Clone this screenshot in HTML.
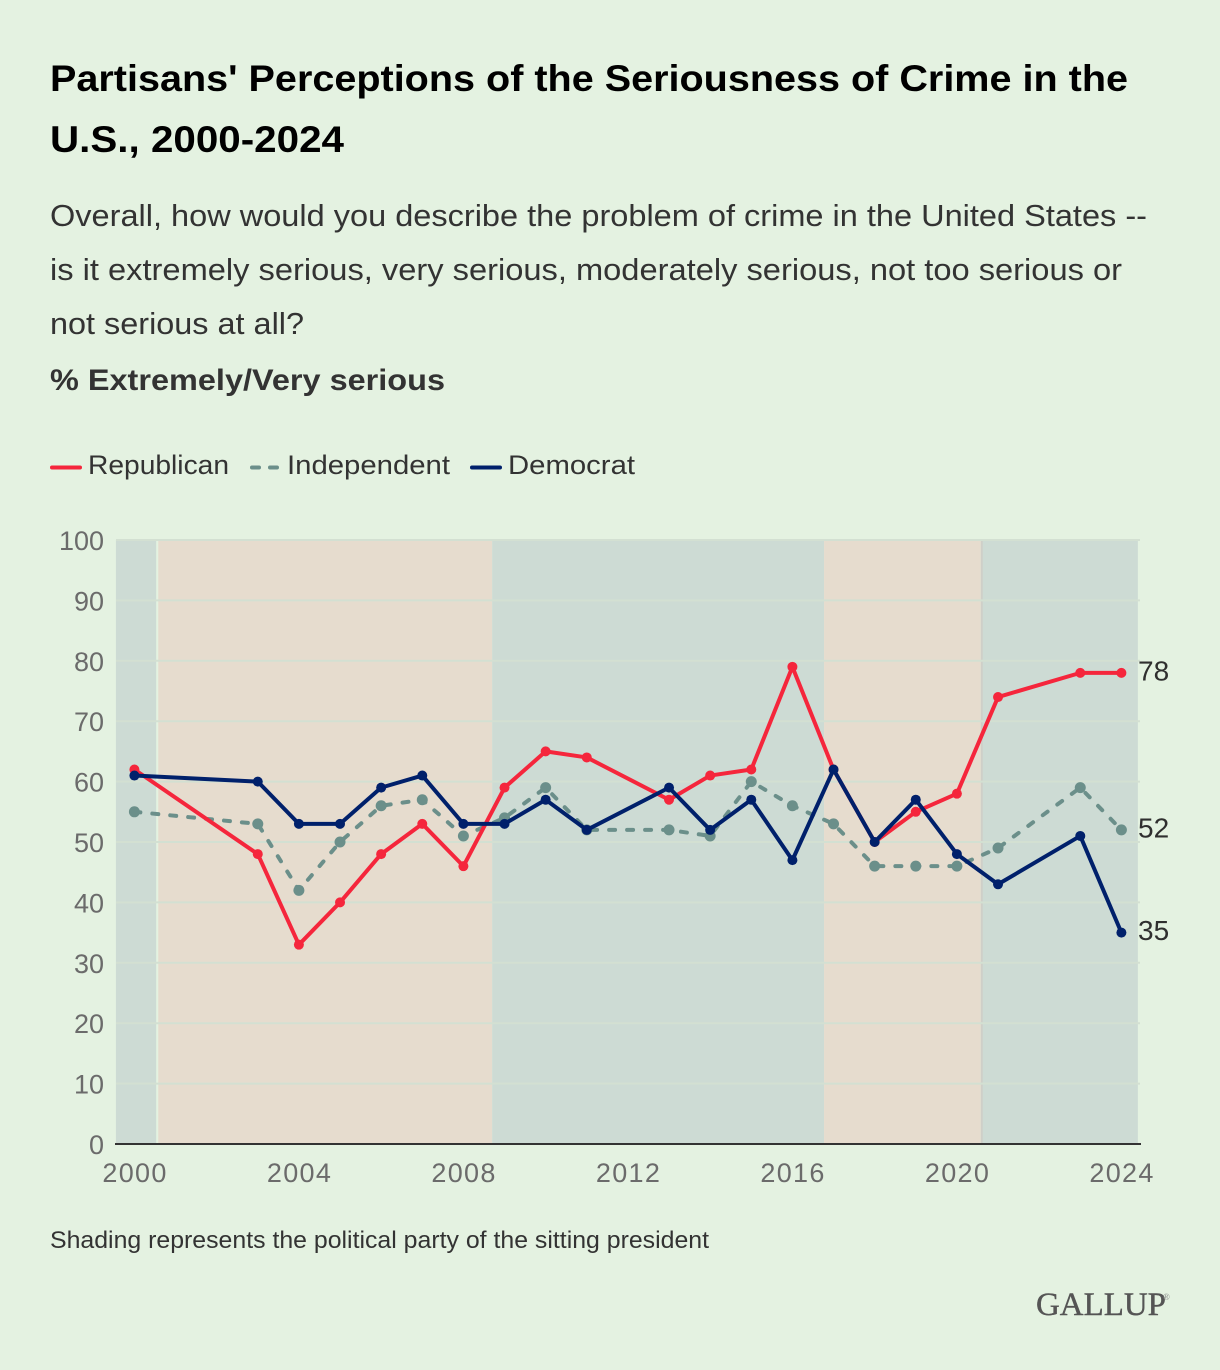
<!DOCTYPE html>
<html lang="en">
<head>
<meta charset="utf-8">
<title>Partisans' Perceptions of the Seriousness of Crime in the U.S., 2000-2024</title>
<style>
html,body{margin:0;padding:0;background:#e4f2e1;}
svg{display:block;font-family:"Liberation Sans",Arial,sans-serif;}
</style>
</head>
<body>
<svg id="chart" xmlns="http://www.w3.org/2000/svg" width="1220" height="1370" viewBox="0 0 1220 1370">
  <rect x="0" y="0" width="1220" height="1370" fill="#e4f2e1"/>

  <g font-size="37" font-weight="700" fill="#000">
    <text x="50" y="91" textLength="1078" lengthAdjust="spacingAndGlyphs">Partisans' Perceptions of the Seriousness of Crime in the</text>
    <text x="50" y="152" textLength="294" lengthAdjust="spacingAndGlyphs">U.S., 2000-2024</text>
  </g>
  <g font-size="31" fill="#333">
    <text x="50" y="226" textLength="1097" lengthAdjust="spacingAndGlyphs">Overall, how would you describe the problem of crime in the United States --</text>
    <text x="50" y="280" textLength="1072" lengthAdjust="spacingAndGlyphs">is it extremely serious, very serious, moderately serious, not too serious or</text>
    <text x="50" y="334" textLength="254" lengthAdjust="spacingAndGlyphs">not serious at all?</text>
  </g>
  <text x="50" y="390" font-size="30" font-weight="700" fill="#333" textLength="395" lengthAdjust="spacingAndGlyphs">% Extremely/Very serious</text>

  <g font-size="27" fill="#333">
    <g>
      <line x1="52" y1="467.5" x2="80" y2="467.5" stroke="#f5263c" stroke-width="4" stroke-linecap="round"/>
      <text x="88" y="474" textLength="141" lengthAdjust="spacingAndGlyphs">Republican</text>
    </g>
    <g>
      <line x1="252" y1="467.5" x2="277" y2="467.5" stroke="#6b8f8a" stroke-width="4" stroke-linecap="round" stroke-dasharray="7 11"/>
      <text x="287" y="474" textLength="163" lengthAdjust="spacingAndGlyphs">Independent</text>
    </g>
    <g>
      <line x1="472" y1="467.5" x2="500" y2="467.5" stroke="#00206b" stroke-width="4" stroke-linecap="round"/>
      <text x="508" y="474" textLength="127" lengthAdjust="spacingAndGlyphs">Democrat</text>
    </g>
  </g>

  <g id="shading"></g>
  <g id="grid"></g>
  <g id="y-axis" font-size="27" fill="#6b6b6b" text-anchor="end"></g>
  <g id="x-axis" font-size="27" fill="#6b6b6b" text-anchor="middle"></g>
  <g id="series"></g>
  <g id="end-labels" font-size="28" fill="#2f2f2f"></g>

  <text x="50" y="1248" font-size="24" fill="#333" textLength="659" lengthAdjust="spacingAndGlyphs">Shading represents the political party of the sitting president</text>
  <g font-family="'Liberation Serif',serif" fill="#555">
    <text x="1036" y="1315" font-size="33" stroke="#555" stroke-width="0.4" textLength="130" lengthAdjust="spacingAndGlyphs">GALLUP</text>
    <text x="1163" y="1300" font-size="9" fill="#888">®</text>
  </g>
</svg>

<script>
const years = [2000,2003,2004,2005,2006,2007,2008,2009,2010,2011,2013,2014,2015,2016,2017,2018,2019,2020,2021,2023,2024];
const republican = [62,48,33,40,48,53,46,59,65,64,57,61,62,79,62,50,55,58,74,78,78];
const independent = [55,53,42,50,56,57,51,54,59,52,52,51,60,56,53,46,46,46,49,59,52];
const democrat = [61,60,53,53,59,61,53,53,57,52,59,52,57,47,62,50,57,48,43,51,35];
const yTicks = [0,10,20,30,40,50,60,70,80,90,100];
const xTicks = [2000,2004,2008,2012,2016,2020,2024];
const termStarts = [1999.55,2000.58,2008.7,2016.77,2020.62];
const termEnds = [2000.53,2008.7,2016.77,2020.58,2024.4];
const termParties = ['D','R','D','R','D'];

const NS = 'http://www.w3.org/2000/svg';
const xScale = function (year) { return 134.4 + (year - 2000) * 41.125; };
const yScale = function (value) { return 1144 - value * 6.04; };

function make(tag, parent, attrs) {
  const el = document.createElementNS(NS, tag);
  Object.keys(attrs).forEach(function (k) { el.setAttribute(k, attrs[k]); });
  parent.appendChild(el);
  return el;
}

const shading = document.getElementById('shading');
termStarts.forEach(function (start, i) {
  const el = make('rect', shading, {
    x: xScale(start),
    y: yScale(100),
    width: xScale(termEnds[i]) - xScale(start),
    height: yScale(0) - yScale(100),
    fill: termParties[i] === 'D' ? '#cddbd4' : '#e6dcce'
  });
  
  
});
const termDivider = make('rect', shading, {
  x: xScale(termEnds[3]),
  y: yScale(100),
  width: 2,
  height: yScale(0) - yScale(100),
  fill: '#cfcfc8'
});



const grid = document.getElementById('grid');
const yAxis = document.getElementById('y-axis');
yTicks.forEach(function (tick) {
  if (tick > 0) {
    const line = make('line', grid, {
      x1: 116,
      x2: 1140,
      y1: yScale(tick),
      y2: yScale(tick),
      stroke: '#d3e0d2',
      'stroke-width': 2
    });
    
    
  }
  const label = make('text', yAxis, { x: 104, y: yScale(tick) + 10 });
  
  
  label.textContent = tick;
});

const xAxis = document.getElementById('x-axis');
const baseline = make('line', xAxis, {
  x1: 115,
  x2: 1141,
  y1: yScale(0),
  y2: yScale(0),
  stroke: '#333',
  'stroke-width': 2
});


xTicks.forEach(function (tick) {
  const label = make('text', xAxis, {
    x: xScale(tick),
    y: 1182,
    textLength: 64,
    lengthAdjust: 'spacing'
  });
  
  
  label.textContent = tick;
});

const seriesGroup = document.getElementById('series');
function drawSeries(values, color, width, dash, radius, seriesName) {
  const group = make('g', seriesGroup, {});
  
  
  const pts = values.map(function (v, i) { return xScale(years[i]) + ',' + yScale(v); }).join(' ');
  const attrs = {
    points: pts,
    fill: 'none',
    stroke: color,
    'stroke-width': width,
    'stroke-linejoin': 'round',
    'stroke-linecap': 'round'
  };
  if (dash) { attrs['stroke-dasharray'] = dash; }
  const line = make('polyline', group, attrs);
  
  
  values.forEach(function (v, i) {
    const dot = make('circle', group, { cx: xScale(years[i]), cy: yScale(v), r: radius, fill: color });
    
    
  });
}
drawSeries(independent, '#6b8f8a', 4, '6 12', 5.5, 'independent-series');
drawSeries(republican, '#f5263c', 4, null, 5, 'republican-series');
drawSeries(democrat, '#00206b', 4, null, 5, 'democrat-series');

const endLabels = document.getElementById('end-labels');
[republican, independent, democrat].forEach(function (values) {
  const last = values[values.length - 1];
  const label = make('text', endLabels, { x: 1138, y: yScale(last) + 7.5 });
  
  
  label.textContent = last;
});
</script>
</body>
</html>
